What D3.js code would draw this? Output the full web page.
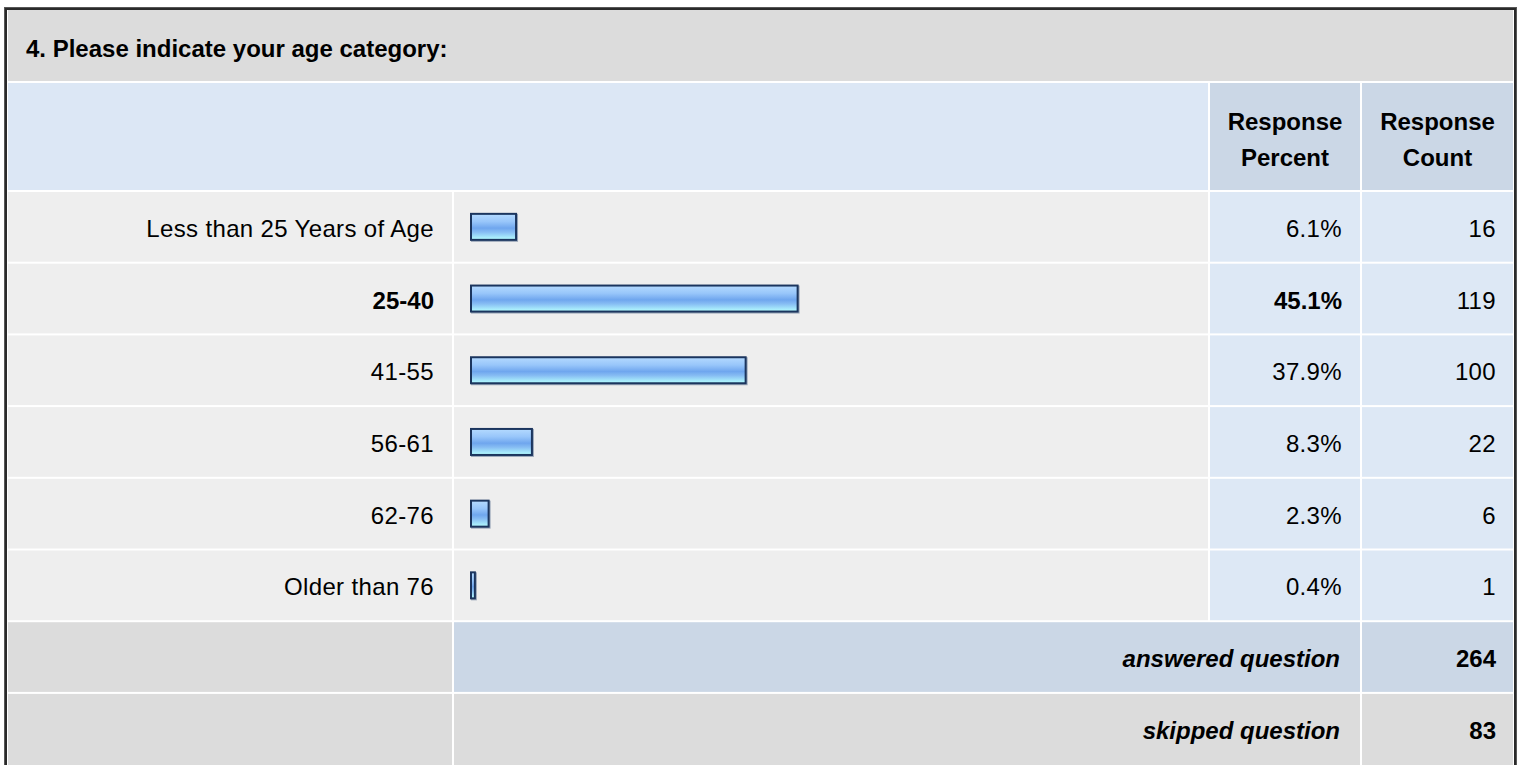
<!DOCTYPE html>
<html>
<head>
<meta charset="utf-8">
<script src="https://cdn.jsdelivr.net/npm/d3@7"></script>
<style>
  html, body { margin: 0; padding: 0; background: #ffffff; }
  svg { display: block; }
  text { font-family: "Liberation Sans", Arial, Helvetica, sans-serif; fill: #000; }
  text.reg { letter-spacing: 0.35px; }
</style>
</head>
<body>
<div id="chart"></div>
<script>
// ---- data ----
const title = "4. Please indicate your age category:";
const categories = ["Less than 25 Years of Age", "25-40", "41-55", "56-61", "62-76", "Older than 76"];
const percents = [6.1, 45.1, 37.9, 8.3, 2.3, 0.4];
const counts = [16, 119, 100, 22, 6, 1];
const headerPercent = ["Response", "Percent"];
const headerCount = ["Response", "Count"];
const summaryLabels = ["answered question", "skipped question"];
const summaryValues = [264, 83];

// ---- layout ----
const W = 1521, H = 765;
const FS = 24;
const colLabel = [8, 452], colBar = [454, 1208], colPct = [1210, 1360], colCnt = [1362, 1513];
const rowStep = 71.7;
const rowsTop = 191;

const svg = d3.select("#chart").append("svg").attr("width", W).attr("height", H);

const defs = svg.append("defs");
const grad = defs.append("linearGradient").attr("id", "barGrad")
  .attr("x1", 0).attr("y1", 0).attr("x2", 0).attr("y2", 1);
[[0, "#b4daff"], [0.3, "#98c6fa"], [0.55, "#6fa6ee"], [0.7, "#86bcf3"], [1, "#b6ffff"]]
  .forEach(([o, c]) => grad.append("stop").attr("offset", o).attr("stop-color", c));

// white table background
svg.append("rect").attr("x", 0).attr("y", 0).attr("width", W).attr("height", H).attr("fill", "#ffffff");

// scales
const allRows = categories.concat(summaryLabels);
const y = d3.scaleBand().domain(allRows).range([rowsTop, rowsTop + allRows.length * rowStep]).padding(0);
const x = d3.scaleLinear().domain([0, 100]).range([0, 722]);

function cell(x0, x1, y0, y1, fill) {
  svg.append("rect").attr("x", x0).attr("y", y0).attr("width", x1 - x0).attr("height", y1 - y0).attr("fill", fill);
}

// title row
cell(8, 1513, 10, 81, "#dcdcdc");
svg.append("text").attr("x", 26).attr("y", 57).attr("font-size", FS).attr("font-weight", "bold").text(title);

// header row
cell(8, 1208, 83, 190, "#dce7f5");
cell(colPct[0], colPct[1], 83, 190, "#cbd7e6");
cell(colCnt[0], colCnt[1], 83, 190, "#cbd7e6");
[[colPct, headerPercent], [colCnt, headerCount]].forEach(([c, lines]) => {
  lines.forEach((t, i) => {
    svg.append("text").attr("x", (c[0] + c[1]) / 2).attr("y", 129.5 + i * 36.5)
      .attr("text-anchor", "middle").attr("font-size", FS).attr("font-weight", "bold").text(t);
  });
});

// data rows
const maxP = d3.max(percents);
const rows = svg.append("g").selectAll("g").data(categories).join("g");
rows.each(function (c, i) {
  const g = d3.select(this);
  const y0 = y(c) + 1, y1 = y(c) + y.bandwidth() - 1;
  const cy = y(c) + y.bandwidth() / 2;
  const bold = percents[i] === maxP;
  g.append("rect").attr("x", colLabel[0]).attr("y", y0).attr("width", colLabel[1] - colLabel[0]).attr("height", y1 - y0).attr("fill", "#eeeeee");
  g.append("rect").attr("x", colBar[0]).attr("y", y0).attr("width", colBar[1] - colBar[0]).attr("height", y1 - y0).attr("fill", "#eeeeee");
  g.append("rect").attr("x", colPct[0]).attr("y", y0).attr("width", colPct[1] - colPct[0]).attr("height", y1 - y0).attr("fill", "#dde8f5");
  g.append("rect").attr("x", colCnt[0]).attr("y", y0).attr("width", colCnt[1] - colCnt[0]).attr("height", y1 - y0).attr("fill", "#dde8f5");
  g.append("text").attr("class", bold ? null : "reg").attr("x", 434).attr("y", cy + 10).attr("text-anchor", "end").attr("font-size", FS)
    .attr("font-weight", bold ? "bold" : "normal").text(c);
  // bar shadow
  g.append("rect").attr("x", 472).attr("y", cy - 12).attr("width", x(percents[i]) + 1).attr("height", 26)
    .attr("fill", "none").attr("stroke", "#9aa6b8").attr("stroke-width", 2);
  g.append("rect").attr("x", 471).attr("y", cy - 13).attr("width", x(percents[i]) + 1).attr("height", 26)
    .attr("fill", "url(#barGrad)").attr("stroke", "#1b355e").attr("stroke-width", 2);
  g.append("text").attr("class", bold ? null : "reg").attr("x", 1342).attr("y", cy + 10).attr("text-anchor", "end").attr("font-size", FS)
    .attr("font-weight", bold ? "bold" : "normal").text(percents[i].toFixed(1) + "%");
  g.append("text").attr("class", "reg").attr("x", 1496).attr("y", cy + 10).attr("text-anchor", "end").attr("font-size", FS)
    .text(counts[i]);
});

// summary rows
summaryLabels.forEach((s, i) => {
  const y0 = y(s) + 1, y1 = y(s) + y.bandwidth() - 1 + (i === summaryLabels.length - 1 ? 10 : 0);
  const cy = y(s) + y.bandwidth() / 2;
  cell(colLabel[0], colLabel[1], y0, y1, "#dcdcdc");
  cell(colBar[0], colPct[1], y0, y1, i === 0 ? "#cbd7e6" : "#dcdcdc");
  cell(colCnt[0], colCnt[1], y0, y1, i === 0 ? "#cbd7e6" : "#dcdcdc");
  svg.append("text").attr("x", 1340).attr("y", cy + 10).attr("text-anchor", "end").attr("font-size", FS)
    .attr("font-weight", "bold").attr("font-style", "italic").text(s);
  svg.append("text").attr("x", 1496).attr("y", cy + 10).attr("text-anchor", "end").attr("font-size", FS)
    .attr("font-weight", "bold").text(summaryValues[i]);
});

// outer border
svg.append("rect").attr("x", 5.5).attr("y", 8.5).attr("width", 1510).attr("height", 770)
  .attr("fill", "none").attr("stroke", "#2a2a2a").attr("stroke-width", 3);
svg.append("rect").attr("x", 4.5).attr("y", 7.5).attr("width", 1512).attr("height", 772)
  .attr("fill", "none").attr("stroke", "#777").attr("stroke-width", 1).attr("opacity", 0.6);
</script>
</body>
</html>
